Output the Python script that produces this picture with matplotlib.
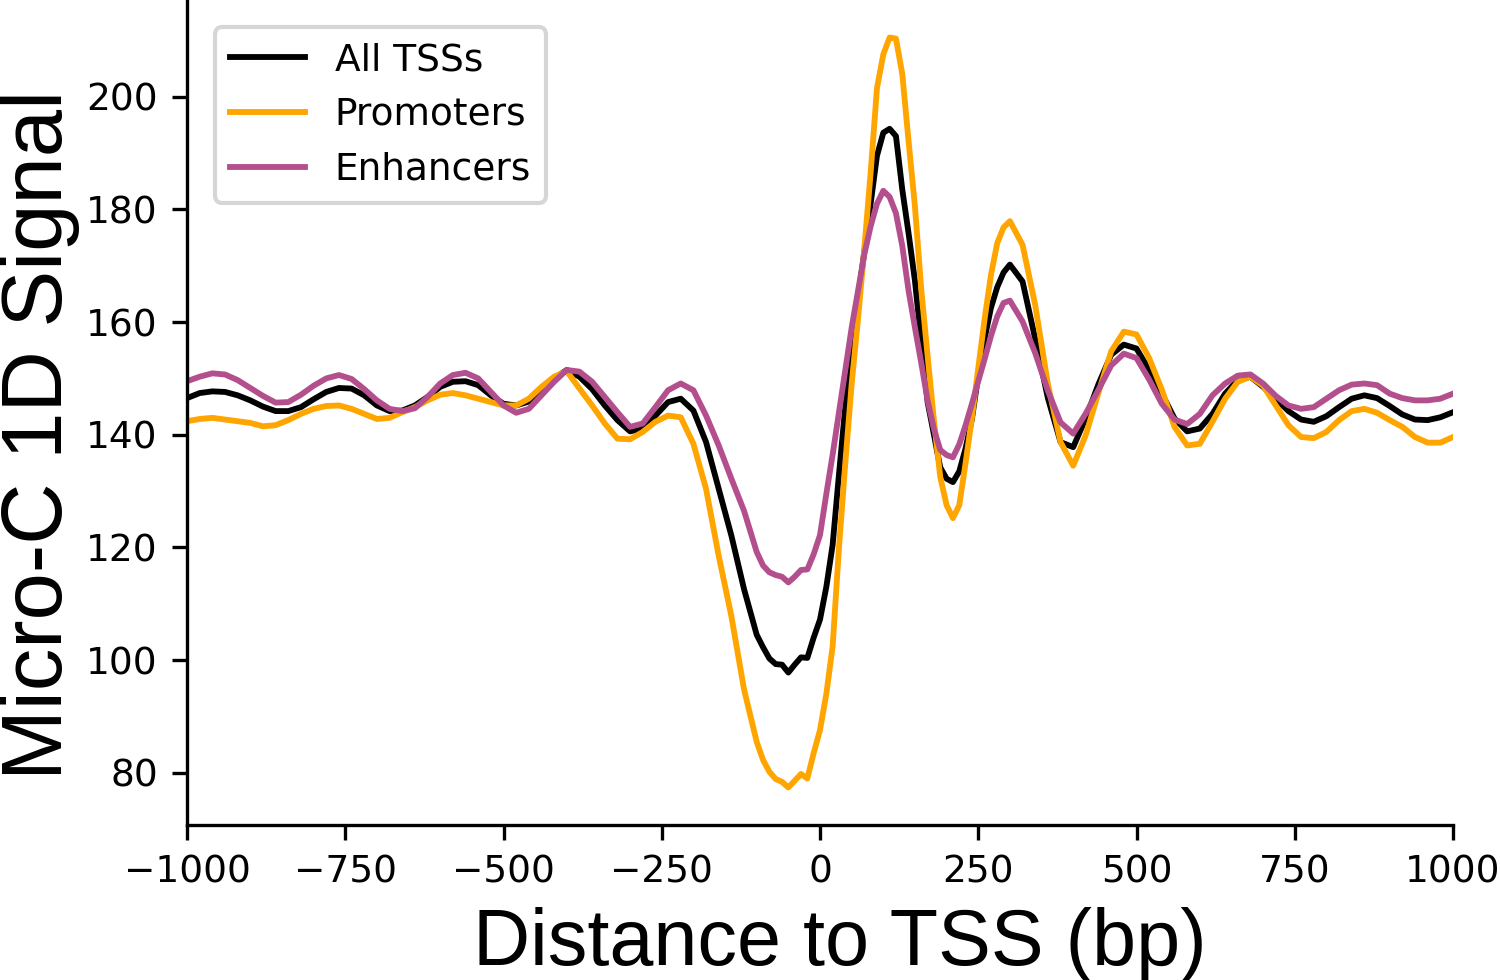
import numpy as np
import matplotlib
matplotlib.use("Agg")
import matplotlib.pyplot as plt

# distance to TSS (bp): 20 bp bins on the flanks, 10 bp bins around the TSS
distance = np.concatenate([
    np.arange(-1000, -100, 20),
    np.arange(-100, 300, 10),
    np.arange(300, 1001, 20),
])

all_tss = [
    # -1000 .. -120
    146.5, 147.4, 147.7, 147.6, 147.0, 146.1, 145.0, 144.2, 144.2, 144.9,
    146.3, 147.6, 148.3, 148.2, 147.0, 145.2, 144.2, 144.3, 145.2, 146.7,
    148.5, 149.4, 149.5, 148.8, 147.0, 145.5, 145.2, 145.9, 147.9, 150.0,
    151.5, 150.3, 148.1, 145.2, 142.6, 140.6, 141.1, 143.4, 145.8, 146.4,
    144.3, 138.7, 130.4, 122.1, 112.6,
    # -100 .. 290
    104.5, 102.3, 100.3, 99.3, 99.2, 97.8, 99.2, 100.5, 100.4, 104.0,
    107.2, 113.0, 120.5, 133.0, 145.0, 155.0, 164.0, 172.5, 181.0, 189.5,
    193.6, 194.3, 193.0, 183.5, 175.7, 167.3, 156.5, 145.8, 140.0, 134.2,
    132.2, 131.6, 133.5, 137.6, 142.8, 150.5, 157.0, 162.5, 166.2, 168.8,
    # 300 .. 1000
    170.2, 167.2, 157.0, 146.5, 138.7, 137.8, 143.0, 149.0, 154.2, 156.0,
    155.3, 151.5, 147.3, 142.9, 140.6, 141.1, 143.7, 147.3, 149.7, 150.3,
    148.5, 146.4, 144.2, 142.7, 142.3, 143.3, 144.9, 146.4, 147.0, 146.5,
    145.1, 143.6, 142.7, 142.6, 143.1, 144.0,
]

promoters = [
    # -1000 .. -120
    142.4, 142.8, 143.0, 142.7, 142.4, 142.1, 141.5, 141.7, 142.6, 143.7,
    144.6, 145.1, 145.2, 144.6, 143.7, 142.8, 143.0, 144.0, 144.9, 146.1,
    147.1, 147.4, 147.0, 146.4, 145.8, 145.2, 145.2, 146.4, 148.5, 150.3,
    151.3, 148.2, 145.2, 142.0, 139.3, 139.2, 140.5, 142.3, 143.4, 143.1,
    138.4, 130.4, 118.5, 107.8, 94.8,
    # -100 .. 290
    85.5, 82.3, 80.2, 78.9, 78.4, 77.4, 78.6, 79.8, 79.0, 83.5,
    87.6, 94.0, 102.5, 120.0, 135.0, 149.0, 160.5, 173.0, 186.5, 201.5,
    207.5, 210.5, 210.3, 204.0, 192.0, 180.5, 165.7, 154.0, 142.5, 132.5,
    127.5, 125.2, 127.5, 135.0, 143.0, 151.8, 160.5, 168.3, 174.0, 176.8,
    # 300 .. 1000
    177.9, 173.7, 163.0, 149.0, 138.7, 134.5, 140.0, 147.5, 154.8, 158.3,
    157.8, 153.6, 148.0, 141.4, 138.1, 138.4, 142.3, 146.4, 149.4, 150.3,
    148.7, 145.2, 141.7, 139.6, 139.4, 140.5, 142.6, 144.2, 144.6, 143.9,
    142.6, 141.4, 139.6, 138.6, 138.6, 139.6,
]

enhancers = [
    # -1000 .. -120
    149.5, 150.3, 150.9, 150.7, 149.7, 148.3, 146.9, 145.7, 145.8, 147.1,
    148.7, 150.0, 150.6, 149.9, 148.1, 146.1, 144.6, 144.2, 144.7, 146.7,
    149.1, 150.6, 151.0, 150.0, 147.6, 145.2, 143.9, 144.6, 147.0, 149.4,
    151.5, 151.2, 149.4, 146.7, 144.0, 141.4, 142.0, 144.9, 147.9, 149.1,
    147.9, 143.4, 138.1, 132.2, 126.5,
    # -100 .. 290
    119.2, 116.8, 115.6, 115.1, 114.8, 113.8, 114.8, 116.0, 116.1, 118.8,
    122.2, 129.5, 136.5, 144.0, 151.5, 159.0, 165.5, 172.0, 177.0, 181.0,
    183.3, 182.2, 179.3, 173.5, 165.5, 159.0, 152.7, 146.1, 141.0, 137.3,
    136.4, 136.0, 138.3, 141.7, 145.5, 149.5, 153.4, 157.5, 161.0, 163.4,
    # 300 .. 1000
    163.8, 160.1, 154.5, 147.8, 142.2, 140.2, 143.8, 148.0, 152.3, 154.4,
    153.6, 149.8, 145.5, 142.7, 141.9, 143.7, 147.0, 149.1, 150.5, 150.7,
    149.1, 146.9, 145.2, 144.6, 144.9, 146.4, 147.9, 148.9, 149.1, 148.8,
    147.3, 146.5, 146.1, 146.1, 146.4, 147.3,
]

series_labels = ["All TSSs", "Promoters", "Enhancers"]
series_colors = ["black", "orange", "#B44F8E"]

fig = plt.figure(figsize=(5, 980 / 300), dpi=300)
ax = fig.add_axes([187 / 1500, 1 - 825 / 980, 1266 / 1500, 825 / 980])

for values, label, color in zip([all_tss, promoters, enhancers], series_labels, series_colors):
    ax.plot(distance, values, color=color, lw=1.4, label=label)

ax.set_xlim(-1000, 1000)
ax.set_xticks(np.arange(-1000, 1001, 250))
ax.set_yticks(np.arange(80, 201, 20))
ax.tick_params(labelsize=9)
ax.spines[["top", "right"]].set_visible(False)

ax.set_xlabel("Distance to TSS (bp)", fontsize=19, family="Liberation Sans")
ax.xaxis.label.set_x(0.516)
ax.set_ylabel("Micro-C 1D Signal", fontsize=20.4, family="Liberation Sans")
ax.yaxis.set_label_coords(-0.0845, 0.473)

ax.legend(loc="upper left", fontsize=9, bbox_to_anchor=(0.022, 0.967), borderaxespad=0)

fig.savefig("out.png", dpi=300)
